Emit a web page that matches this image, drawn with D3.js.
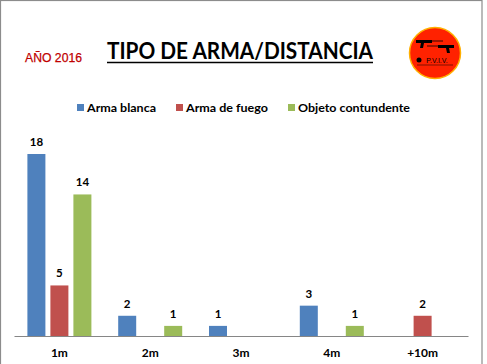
<!DOCTYPE html>
<html><head><meta charset="utf-8">
<script src="https://cdn.jsdelivr.net/npm/d3@7"></script>
<style>body{margin:0;background:#fff}svg{display:block}</style>
</head><body>
<script>
const categories = ["1m","2m","3m","4m","+10m"];
const seriesNames = ["Arma blanca","Arma de fuego","Objeto contundente"];
const armaBlanca = [18,2,1,3,0];
const armaFuego = [5,0,0,0,2];
const objetoContundente = [14,1,0,1,0];
const colors = ["#4f81bd","#c0504d","#9bbb59"];
const seriesValues = [armaBlanca, armaFuego, objetoContundente];

const W=487,H=364;
const svg=d3.select("body").append("svg").attr("width",W).attr("height",H);
svg.append("rect").attr("x",0.5).attr("y",0.5).attr("width",481.5).attr("height",370).attr("fill","#fff").attr("stroke","#8c8c8c").attr("stroke-width",1.2);

const font="Lato, 'Open Sans', sans-serif";
// Title
svg.append("text").attr("x",240).attr("y",59).attr("text-anchor","middle")
 .attr("font-family",font).attr("font-weight","bold").attr("font-size",22)
 .attr("textLength",266).attr("lengthAdjust","spacingAndGlyphs").text("TIPO DE ARMA/DISTANCIA");
svg.append("line").attr("x1",107).attr("x2",373).attr("y1",62.5).attr("y2",62.5).attr("stroke","#000").attr("stroke-width",1.5);
svg.append("text").attr("x",25).attr("y",62).attr("font-family","'Liberation Sans', Arial, sans-serif")
 .attr("font-size",12.5).attr("fill","#c00000").attr("stroke","#c00000").attr("stroke-width",0.25)
 .attr("textLength",57).attr("lengthAdjust","spacingAndGlyphs").text("AÑO 2016");

// Logo
const lg=svg.append("g").attr("transform","translate(435,53)");
lg.append("circle").attr("r",25.5).attr("fill","#ff2200").attr("stroke","#ffb000").attr("stroke-width",1.5);
lg.append("path").attr("d","M-19,-13 L-3,-13 L-3,-10 L-11,-10 L-12,-5 L-15,-5 L-14,-10 L-19,-10 Z").attr("fill","#000");
lg.append("path").attr("d","M19,-8 L3,-8 L3,-5 L11,-5 L12,0 L15,0 L14,-5 L19,-5 Z").attr("fill","#000");
lg.append("line").attr("x1",-3).attr("x2",8).attr("y1",-12).attr("y2",-12).attr("stroke","#000").attr("stroke-width",0.8);
lg.append("line").attr("x1",-8).attr("x2",3).attr("y1",-7).attr("y2",-7).attr("stroke","#000").attr("stroke-width",0.8);
lg.append("circle").attr("cx",-16).attr("cy",7).attr("r",2.5).attr("fill","#000");
lg.append("text").attr("x",2).attr("y",9.5).attr("text-anchor","middle").attr("font-family","'Liberation Sans', Arial, sans-serif")
 .attr("font-size",7).attr("fill","#000").text("P.V.I.V.");
lg.append("line").attr("x1",-18).attr("x2",18).attr("y1",12).attr("y2",12).attr("stroke","#000").attr("stroke-width",0.5);

// Legend
const legX=[77,176,288];
const legW=[69,82,112];
seriesNames.forEach((n,i)=>{
  svg.append("rect").attr("x",legX[i]).attr("y",104).attr("width",7).attr("height",7).attr("fill",colors[i]);
  svg.append("text").attr("x",legX[i]+10).attr("y",111.5).attr("font-family",font).attr("font-weight","bold")
   .attr("font-size",11.5).attr("fill","#000").attr("textLength",legW[i]).attr("lengthAdjust","spacingAndGlyphs").text(n);
});

// Scales
const x=d3.scaleBand().domain(categories).range([14,468]).padding(0);
const xi=d3.scaleBand().domain(d3.range(3)).range([-32,32]).paddingInner(5/23).paddingOuter(0);
const y=d3.scaleLinear().domain([0,18]).range([336,154]);

const g=svg.append("g");
seriesValues.forEach((vals,si)=>{
  vals.forEach((v,ci)=>{
    if(!v) return;
    const cx=x(categories[ci])+x.bandwidth()/2+xi(si);
    g.append("rect").attr("x",cx).attr("y",y(v)).attr("width",xi.bandwidth()).attr("height",y(0)-y(v)).attr("fill",colors[si]);
    g.append("text").attr("x",cx+xi.bandwidth()/2).attr("y",y(v)-8).attr("text-anchor","middle")
     .attr("font-family",font).attr("font-weight","bold").attr("font-size",11.5).text(v);
  });
});

const ax=svg.append("g").attr("transform","translate(0,336)").call(d3.axisBottom(x).tickSize(0).tickPadding(12));
ax.select(".domain").attr("stroke","#868686").attr("stroke-width",1.2);
ax.selectAll("text").attr("font-family",font).attr("font-weight","bold").attr("font-size",12).attr("fill","#000");
</script>
</body></html>
